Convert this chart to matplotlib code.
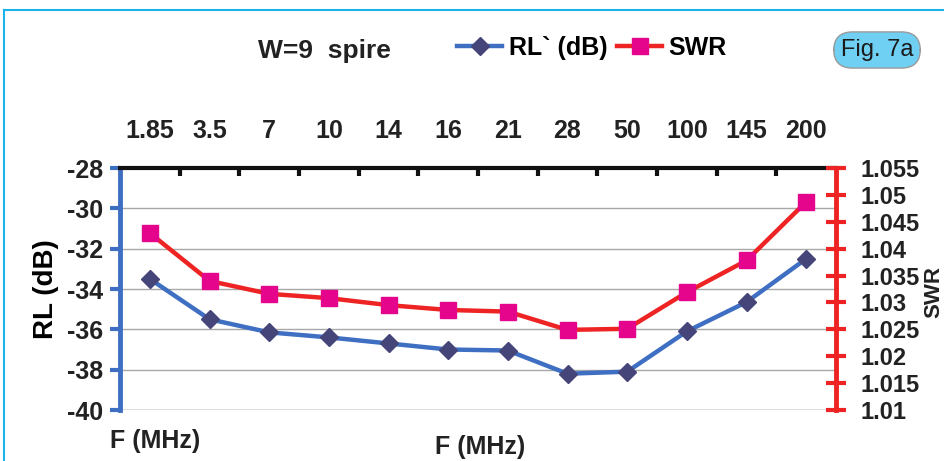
import matplotlib
matplotlib.use("Agg")
import matplotlib.pyplot as plt
from matplotlib.lines import Line2D

plt.rcParams['font.family'] = ['Liberation Sans', 'DejaVu Sans']
plt.rcParams['axes.unicode_minus'] = False

# data
freqs = ["1.85", "3.5", "7", "10", "14", "16", "21", "28", "50", "100", "145", "200"]
rl_db = [-33.5, -35.5, -36.15, -36.4, -36.7, -37.0, -37.05, -38.2, -38.1, -36.1, -34.65, -32.5]
swr = [1.0429, 1.0340, 1.0316, 1.0308, 1.0295, 1.0286, 1.0283, 1.0249, 1.0251, 1.0319, 1.0378, 1.0487]
rl_ticks = [-28, -30, -32, -34, -36, -38, -40]
swr_ticks = [1.01, 1.015, 1.02, 1.025, 1.03, 1.035, 1.04, 1.045, 1.05, 1.055]
swr_labels = ["1.01", "1.015", "1.02", "1.025", "1.03", "1.035", "1.04", "1.045", "1.05", "1.055"]

blue_line = "#3f6fc2"
blue_mark = "#45457a"
red_line = "#ee2424"
red_mark = "#e5058c"
txt = "#222222"

W, H = 944, 461
fig = plt.figure(figsize=(W / 100, H / 100), dpi=100)

# cyan frame lines (top and left)
fig.add_artist(Line2D([4 / W, 1], [1 - 10 / H, 1 - 10 / H], color="#19b4ea", lw=1.5))
fig.add_artist(Line2D([4 / W, 4 / W], [0, 1 - 10 / H], color="#19b4ea", lw=1.5))

ax = fig.add_axes([120 / W, 1 - 410 / H, (836 - 120) / W, (410 - 168) / H])
x = list(range(len(freqs)))

ax.set_xlim(-0.5, len(freqs) - 0.5)
ax.set_ylim(-40, -28)

# horizontal grid lines
for v in rl_ticks:
    if v == -28:
        continue
    ax.axhline(v, color="#555555" if v == -40 else "#a8a8a8", lw=1.0, zorder=1)

ax.plot(x, rl_db, color=blue_line, lw=3.2, marker="D", markersize=9,
        markerfacecolor=blue_mark, markeredgecolor=blue_mark, zorder=3)

ax.set_yticks(rl_ticks)
ax.set_yticklabels([str(v) for v in rl_ticks], fontsize=18, fontweight="bold")
ax.tick_params(axis="y", colors=blue_line, length=7, width=3, pad=5, labelcolor=txt)

# categories on the top axis, ticks between categories
ax.xaxis.tick_top()
ax.set_xticks(x)
ax.set_xticklabels(freqs, fontsize=18, fontweight="bold", color=txt)
ax.set_xticks([i + 0.5 for i in x[:-1]], minor=True)
ax.tick_params(axis="x", which="major", length=0, pad=18)
ax.tick_params(axis="x", which="minor", direction="in", length=6, width=3, color="#111111")

ax.spines["top"].set_color("#111111")
ax.spines["top"].set_linewidth(3)
ax.spines["left"].set_color(blue_line)
ax.spines["left"].set_linewidth(3.5)
ax.spines["bottom"].set_visible(False)
ax.spines["right"].set_visible(False)
ax.set_ylabel("RL (dB)", fontsize=20, fontweight="bold", labelpad=6)

ax2 = ax.twinx()
ax2.set_ylim(1.01, 1.055)
ax2.plot(x, swr, color=red_line, lw=3.2, marker="s", markersize=12,
         markerfacecolor=red_mark, markeredgecolor=red_mark, zorder=3)
ax2.set_yticks(swr_ticks)
ax2.set_yticklabels(swr_labels, fontsize=17, fontweight="bold", color=txt)
ax2.tick_params(axis="y", direction="inout", length=14, width=3, color=red_line, pad=11)
for s in ["top", "left", "bottom"]:
    ax2.spines[s].set_visible(False)
ax2.spines["right"].set_color(red_line)
ax2.spines["right"].set_linewidth(3.5)

# right axis title, against the right edge
fig.text(944 / W, 1 - 292 / H, "SWR", fontsize=16, fontweight="bold", rotation=90,
         ha="right", va="center", color=txt)

# x axis captions
fig.text(155 / W, 1 - 441 / H, "F (MHz)", fontsize=18, fontweight="bold",
         ha="center", va="center", color=txt)
fig.text(480 / W, 1 - 447 / H, "F (MHz)", fontsize=18, fontweight="bold",
         ha="center", va="center", color=txt)

# title and legend
fig.text(324 / W, 1 - 51 / H, "W=9  spire", fontsize=19, fontweight="bold",
         ha="center", va="center", color=txt)
handles = [
    Line2D([], [], color=blue_line, lw=3.2, marker="D", markersize=9,
           markerfacecolor=blue_mark, markeredgecolor=blue_mark),
    Line2D([], [], color=red_line, lw=3.2, marker="s", markersize=11,
           markerfacecolor=red_mark, markeredgecolor=red_mark),
]
fig.legend(handles, ["RL` (dB)", "SWR"], loc="center", bbox_to_anchor=(592 / W, 1 - 48 / H),
           ncol=2, frameon=False, handlelength=1.8, handletextpad=0.25,
           columnspacing=0.4, prop={"weight": "bold", "size": 18})

# "Fig. 7a" badge
fig.text(877 / W, 1 - 50 / H, "Fig. 7a", fontsize=17, ha="center", va="center",
         color="#1a1a1a",
         bbox=dict(boxstyle="round,pad=0.3,rounding_size=0.8", facecolor="#6fd0f4",
                   edgecolor="#9a9a9a", lw=1.0))

fig.savefig("out.png", dpi=100)
